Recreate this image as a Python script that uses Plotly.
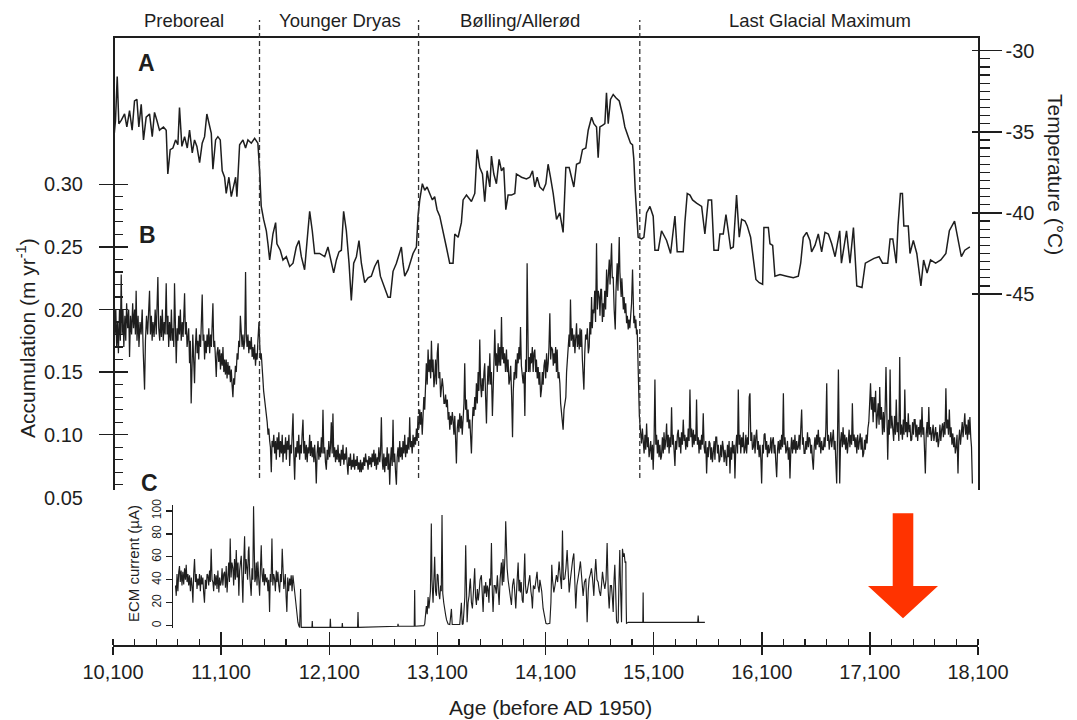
import plotly.graph_objects as go

# ---------------- DATA ----------------
# A: temperature (deg C) vs age (years before AD 1950)
TEMP_PREBOREAL = [
    (10105, -35.6), (10123, -34.3), (10139, -31.6), (10154, -34.5), (10176, -34.3), (10207, -33.9),
    (10228, -34.7), (10253, -33.7), (10277, -34.9), (10299, -33.1), (10321, -33.0), (10339, -34.7),
    (10361, -33.3), (10382, -35.5), (10407, -34.1), (10438, -33.9), (10463, -35.3), (10484, -33.8),
    (10506, -34.3), (10530, -34.9), (10567, -34.7), (10592, -34.9), (10607, -37.6), (10629, -36.1),
    (10654, -36.0), (10679, -35.5), (10700, -35.8), (10715, -33.5), (10737, -35.9), (10762, -35.3),
    (10787, -36.0), (10808, -34.9), (10833, -36.3), (10854, -35.5), (10876, -35.9), (10901, -36.9),
    (10925, -35.7), (10947, -35.3), (10968, -33.9), (10993, -34.7), (11009, -35.1), (11024, -37.3),
    (11049, -35.5), (11070, -35.3), (11092, -35.5), (11110, -37.4), (11132, -37.8), (11147, -38.8),
    (11172, -37.8), (11194, -39.0), (11215, -38.4), (11234, -37.8), (11246, -39.0), (11271, -35.8),
    (11302, -35.5), (11326, -36.0), (11348, -35.5), (11379, -35.7), (11410, -35.4), (11440, -35.7),
]
TEMP_YOUNGER_DRYAS = [
    (11456, -37.4), (11471, -39.6), (11493, -40.4), (11518, -41.1), (11533, -41.9), (11549, -42.9),
    (11579, -41.3), (11604, -40.6), (11616, -41.9), (11647, -42.3), (11672, -42.9), (11703, -42.7),
    (11734, -43.3), (11765, -43.1), (11795, -42.1), (11820, -41.7), (11842, -42.7), (11872, -43.5),
    (11903, -41.1), (11919, -39.9), (11943, -41.1), (11965, -42.5), (12011, -42.5), (12058, -42.7),
    (12088, -42.1), (12119, -43.1), (12141, -43.7), (12166, -42.9), (12190, -42.4), (12212, -42.3),
    (12233, -39.9), (12258, -41.1), (12283, -43.1), (12304, -45.4), (12326, -43.1), (12351, -42.7),
    (12375, -41.7), (12397, -43.1), (12428, -44.3), (12459, -44.0), (12489, -43.9), (12520, -43.3),
    (12551, -42.9), (12573, -43.9), (12597, -44.3), (12622, -44.8), (12644, -45.2), (12665, -45.2),
    (12690, -43.6), (12721, -43.1), (12745, -42.5), (12767, -42.1), (12782, -43.1), (12798, -43.9),
    (12829, -43.5), (12850, -43.1), (12875, -42.5), (12906, -42.1), (12921, -40.2),
]
TEMP_BOLLING_ALLEROD = [
    (12937, -39.2), (12961, -38.2), (12983, -38.6), (13005, -38.4), (13029, -38.8), (13054, -39.2),
    (13075, -39.0), (13097, -39.8), (13122, -40.2), (13153, -41.1), (13183, -42.1), (13214, -43.1),
    (13245, -43.1), (13261, -41.3), (13292, -41.5), (13322, -40.6), (13338, -39.2), (13369, -38.9),
    (13415, -39.3), (13446, -38.8), (13467, -36.1), (13492, -37.2), (13517, -37.6), (13538, -39.3),
    (13560, -37.4), (13585, -38.4), (13600, -36.5), (13622, -37.6), (13646, -38.2), (13671, -36.7),
    (13693, -37.4), (13714, -37.2), (13733, -39.8), (13754, -38.9), (13785, -38.9), (13816, -38.8),
    (13831, -37.6), (13878, -37.8), (13924, -37.9), (13955, -37.8), (13980, -37.4), (14001, -38.4),
    (14023, -37.8), (14047, -38.4), (14078, -38.6), (14103, -38.2), (14124, -37.0), (14146, -37.8),
    (14171, -38.8), (14202, -40.4), (14232, -40.0), (14263, -41.2), (14288, -37.2), (14319, -37.2),
    (14340, -37.8), (14362, -38.4), (14387, -37.0), (14418, -36.9), (14442, -36.1), (14473, -36.0),
    (14495, -34.9), (14526, -34.1), (14547, -34.5), (14572, -34.7), (14587, -36.6), (14603, -34.7),
    (14627, -34.6), (14649, -34.5), (14664, -32.6), (14680, -34.5), (14701, -33.0), (14726, -32.7),
    (14751, -32.9), (14782, -33.1), (14812, -33.9), (14834, -34.7), (14865, -35.3), (14886, -35.7),
    (14905, -35.8), (14917, -36.7), (14930, -38.6), (14942, -40.2), (14957, -41.5),
]
TEMP_LGM = [
    (14988, -41.6), (15010, -41.5), (15035, -40.0), (15066, -39.6), (15096, -40.2), (15112, -42.3),
    (15143, -42.3), (15173, -41.1), (15220, -41.7), (15257, -42.5), (15281, -41.1), (15297, -40.2),
    (15318, -42.4), (15343, -42.4), (15374, -42.4), (15389, -40.6), (15411, -38.8), (15436, -38.9),
    (15460, -39.2), (15497, -39.4), (15544, -39.6), (15574, -41.3), (15605, -39.2), (15636, -39.2),
    (15658, -42.3), (15698, -42.3), (15713, -41.3), (15744, -41.3), (15769, -40.1), (15790, -41.1),
    (15812, -42.2), (15837, -42.1), (15852, -40.8), (15867, -38.9), (15892, -41.5), (15914, -40.4),
    (15945, -40.5), (15966, -40.8), (15997, -41.5), (16022, -42.9), (16046, -44.1), (16077, -44.3),
    (16108, -44.4), (16120, -40.9), (16161, -40.9), (16176, -41.9), (16201, -42.0), (16222, -43.9),
    (16269, -43.8), (16330, -43.9), (16392, -44.0), (16438, -43.9), (16460, -43.1), (16484, -41.5),
    (16515, -41.2), (16546, -41.7), (16561, -42.4), (16592, -42.0), (16623, -41.3), (16654, -42.4),
    (16685, -41.2), (16716, -41.3), (16747, -41.9), (16778, -42.7), (16821, -41.1), (16837, -43.1),
    (16884, -41.1), (16916, -43.1), (16948, -40.9), (16979, -44.5), (17027, -44.6), (17058, -43.1),
    (17106, -42.9), (17138, -42.8), (17185, -42.7), (17217, -43.1), (17265, -43.1), (17287, -41.6),
    (17312, -41.6), (17344, -43.1), (17360, -40.8), (17382, -38.8), (17401, -38.8), (17414, -40.8),
    (17455, -40.8), (17471, -42.5), (17502, -41.7), (17534, -42.5), (17572, -44.5), (17597, -42.9),
    (17629, -43.7), (17661, -42.9), (17708, -43.1), (17756, -42.9), (17803, -42.5), (17835, -41.1),
    (17883, -40.5), (17915, -41.7), (17946, -42.7), (17978, -42.3), (18025, -42.1),
]

# B: accumulation (m/yr) vs age
ACC_PREBOREAL = [
    (10102, 0.195), (10110, 0.215), (10118, 0.180), (10126, 0.200), (10134, 0.170), (10142, 0.190),
    (10150, 0.165), (10160, 0.200), (10168, 0.175), (10176, 0.228), (10184, 0.180), (10192, 0.200),
    (10200, 0.170), (10210, 0.195), (10218, 0.175), (10226, 0.205), (10236, 0.185), (10245, 0.200),
    (10253, 0.162), (10262, 0.195), (10272, 0.180), (10282, 0.205), (10290, 0.185), (10300, 0.200),
    (10307, 0.180), (10314, 0.215), (10322, 0.175), (10332, 0.195), (10340, 0.170), (10350, 0.190),
    (10360, 0.180), (10370, 0.200), (10380, 0.165), (10392, 0.136), (10400, 0.175), (10410, 0.195),
    (10420, 0.180), (10430, 0.200), (10438, 0.215), (10446, 0.180), (10455, 0.195), (10462, 0.175),
    (10470, 0.190), (10480, 0.178), (10490, 0.200), (10500, 0.180), (10508, 0.205), (10515, 0.226),
    (10523, 0.185), (10532, 0.175), (10540, 0.195), (10548, 0.178), (10556, 0.200), (10565, 0.175),
    (10573, 0.190), (10582, 0.180), (10592, 0.221), (10600, 0.180), (10608, 0.195), (10615, 0.170),
    (10623, 0.190), (10632, 0.175), (10640, 0.200), (10648, 0.175), (10656, 0.185), (10662, 0.170),
    (10669, 0.221), (10677, 0.175), (10685, 0.157), (10693, 0.185), (10700, 0.175), (10708, 0.195),
    (10715, 0.180), (10723, 0.200), (10731, 0.175), (10740, 0.190), (10748, 0.178), (10755, 0.195),
    (10762, 0.213), (10770, 0.180), (10778, 0.190), (10785, 0.170), (10792, 0.175), (10800, 0.185),
    (10808, 0.157), (10815, 0.175), (10823, 0.125), (10830, 0.170), (10838, 0.180), (10846, 0.160),
    (10854, 0.141), (10862, 0.170), (10870, 0.185), (10878, 0.165), (10885, 0.175), (10893, 0.160),
    (10900, 0.180), (10910, 0.170), (10918, 0.190), (10925, 0.212), (10933, 0.175), (10940, 0.180),
    (10947, 0.160), (10955, 0.175), (10963, 0.165), (10970, 0.180), (10978, 0.170), (10986, 0.185),
    (10994, 0.165), (11002, 0.180), (11010, 0.170), (11017, 0.190), (11024, 0.205), (11032, 0.170),
    (11040, 0.175), (11048, 0.160), (11055, 0.146), (11062, 0.165), (11070, 0.170), (11078, 0.158),
    (11086, 0.168), (11094, 0.152), (11102, 0.165), (11110, 0.155), (11117, 0.170), (11125, 0.150),
    (11132, 0.160), (11140, 0.148), (11147, 0.160), (11155, 0.145), (11163, 0.158), (11170, 0.148),
    (11178, 0.155), (11186, 0.142), (11194, 0.152), (11201, 0.140), (11209, 0.130), (11216, 0.145),
    (11224, 0.140), (11232, 0.155), (11240, 0.150), (11248, 0.165), (11256, 0.160), (11263, 0.175),
    (11271, 0.170), (11278, 0.195), (11286, 0.175), (11294, 0.170), (11302, 0.180), (11310, 0.168),
    (11318, 0.175), (11326, 0.230), (11333, 0.180), (11340, 0.170), (11348, 0.180), (11356, 0.165),
    (11363, 0.175), (11371, 0.168), (11379, 0.178), (11387, 0.162), (11394, 0.170), (11402, 0.160),
    (11410, 0.172), (11418, 0.155), (11425, 0.165), (11433, 0.160), (11440, 0.175), (11450, 0.190),
]
ACC_YOUNGER_DRYAS = [
    (11458, 0.170), (11465, 0.160), (11471, 0.165), (11478, 0.150), (11486, 0.145), (11493, 0.135),
    (11500, 0.130), (11508, 0.120), (11518, 0.115), (11526, 0.110), (11534, 0.100), (11541, 0.105),
    (11549, 0.095), (11556, 0.090), (11564, 0.070), (11571, 0.095), (11579, 0.090), (11587, 0.100),
    (11595, 0.085), (11603, 0.095), (11610, 0.080), (11618, 0.098), (11626, 0.088), (11634, 0.102),
    (11641, 0.082), (11649, 0.095), (11657, 0.085), (11665, 0.100), (11672, 0.078), (11680, 0.092),
    (11688, 0.085), (11696, 0.098), (11703, 0.080), (11711, 0.095), (11719, 0.088), (11727, 0.100),
    (11734, 0.075), (11742, 0.092), (11750, 0.085), (11758, 0.098), (11765, 0.117), (11772, 0.085),
    (11780, 0.064), (11788, 0.090), (11795, 0.082), (11803, 0.095), (11811, 0.085), (11818, 0.100),
    (11826, 0.080), (11834, 0.092), (11842, 0.085), (11849, 0.100), (11857, 0.112), (11865, 0.085),
    (11872, 0.095), (11880, 0.080), (11888, 0.092), (11896, 0.078), (11903, 0.090), (11911, 0.085),
    (11919, 0.100), (11926, 0.083), (11934, 0.095), (11942, 0.082), (11950, 0.090), (11958, 0.078),
    (11965, 0.092), (11973, 0.080), (11980, 0.061), (11988, 0.085), (11996, 0.095), (12004, 0.080),
    (12011, 0.090), (12019, 0.082), (12027, 0.098), (12034, 0.085), (12042, 0.120), (12050, 0.085),
    (12058, 0.090), (12065, 0.078), (12073, 0.072), (12081, 0.088), (12088, 0.080), (12096, 0.095),
    (12104, 0.082), (12111, 0.090), (12119, 0.110), (12127, 0.085), (12134, 0.117), (12142, 0.082),
    (12150, 0.090), (12158, 0.078), (12165, 0.088), (12173, 0.080), (12181, 0.092), (12189, 0.078),
    (12196, 0.085), (12204, 0.075), (12212, 0.088), (12220, 0.080), (12227, 0.092), (12235, 0.076),
    (12243, 0.085), (12250, 0.080), (12258, 0.090), (12266, 0.076), (12273, 0.068), (12281, 0.082),
    (12289, 0.075), (12296, 0.085), (12304, 0.072), (12312, 0.080), (12320, 0.074), (12327, 0.085),
    (12335, 0.072), (12343, 0.080), (12351, 0.075), (12358, 0.083), (12366, 0.072), (12374, 0.078),
    (12382, 0.070), (12389, 0.080), (12397, 0.070), (12405, 0.078), (12412, 0.072), (12420, 0.082),
    (12428, 0.075), (12436, 0.085), (12443, 0.078), (12451, 0.080), (12459, 0.072), (12467, 0.083),
    (12474, 0.076), (12482, 0.082), (12490, 0.074), (12497, 0.085), (12505, 0.078), (12513, 0.088),
    (12520, 0.075), (12528, 0.085), (12536, 0.072), (12544, 0.082), (12551, 0.076), (12559, 0.090),
    (12567, 0.078), (12574, 0.085), (12582, 0.114), (12590, 0.080), (12597, 0.072), (12605, 0.085),
    (12613, 0.070), (12620, 0.082), (12628, 0.075), (12636, 0.090), (12644, 0.072), (12651, 0.085),
    (12659, 0.060), (12667, 0.080), (12674, 0.090), (12682, 0.075), (12690, 0.112), (12697, 0.078),
    (12705, 0.085), (12713, 0.070), (12721, 0.060), (12728, 0.082), (12736, 0.090), (12744, 0.078),
    (12752, 0.095), (12759, 0.082), (12767, 0.090), (12775, 0.080), (12782, 0.095), (12790, 0.085),
    (12798, 0.100), (12806, 0.082), (12813, 0.092), (12821, 0.085), (12829, 0.098), (12837, 0.088),
    (12844, 0.114), (12852, 0.090), (12860, 0.095), (12867, 0.085), (12875, 0.100), (12883, 0.090),
    (12890, 0.098), (12898, 0.092), (12906, 0.105), (12913, 0.095), (12921, 0.115),
]
ACC_BOLLING_ALLEROD = [
    (12929, 0.105), (12937, 0.120), (12944, 0.108), (12952, 0.118), (12960, 0.100), (12967, 0.117),
    (12975, 0.130), (12983, 0.120), (12990, 0.145), (12998, 0.157), (13006, 0.140), (13014, 0.168),
    (13022, 0.150), (13030, 0.160), (13038, 0.145), (13045, 0.175), (13053, 0.150), (13060, 0.160),
    (13068, 0.138), (13075, 0.144), (13083, 0.160), (13091, 0.140), (13099, 0.165), (13107, 0.173),
    (13114, 0.145), (13122, 0.150), (13130, 0.130), (13137, 0.136), (13145, 0.145), (13153, 0.138),
    (13161, 0.125), (13168, 0.125), (13176, 0.132), (13184, 0.122), (13192, 0.128), (13200, 0.112),
    (13207, 0.118), (13215, 0.104), (13222, 0.115), (13230, 0.108), (13238, 0.118), (13245, 0.112),
    (13253, 0.100), (13261, 0.115), (13268, 0.092), (13276, 0.077), (13284, 0.105), (13292, 0.112),
    (13299, 0.102), (13307, 0.117), (13315, 0.105), (13322, 0.115), (13330, 0.100), (13338, 0.109),
    (13346, 0.125), (13353, 0.157), (13361, 0.120), (13369, 0.128), (13376, 0.110), (13384, 0.120),
    (13392, 0.105), (13400, 0.112), (13407, 0.095), (13415, 0.085), (13423, 0.110), (13430, 0.122),
    (13438, 0.115), (13446, 0.130), (13453, 0.120), (13461, 0.141), (13469, 0.125), (13477, 0.150),
    (13484, 0.135), (13492, 0.176), (13500, 0.140), (13508, 0.130), (13515, 0.145), (13523, 0.135),
    (13531, 0.150), (13538, 0.157), (13546, 0.130), (13554, 0.109), (13562, 0.140), (13569, 0.155),
    (13577, 0.140), (13585, 0.165), (13593, 0.140), (13600, 0.150), (13609, 0.115), (13616, 0.150),
    (13624, 0.160), (13631, 0.184), (13639, 0.155), (13646, 0.165), (13654, 0.150), (13662, 0.173),
    (13670, 0.155), (13677, 0.170), (13685, 0.155), (13693, 0.194), (13700, 0.160), (13708, 0.170),
    (13714, 0.157), (13722, 0.165), (13730, 0.150), (13739, 0.168), (13746, 0.150), (13754, 0.160),
    (13762, 0.140), (13770, 0.144), (13778, 0.155), (13787, 0.130), (13795, 0.098), (13802, 0.135),
    (13810, 0.150), (13816, 0.144), (13824, 0.160), (13832, 0.145), (13840, 0.165), (13847, 0.157),
    (13855, 0.170), (13862, 0.160), (13869, 0.186), (13877, 0.155), (13885, 0.150), (13893, 0.141),
    (13901, 0.150), (13909, 0.115), (13916, 0.160), (13923, 0.150), (13930, 0.237), (13937, 0.160),
    (13942, 0.150), (13949, 0.162), (13957, 0.150), (13963, 0.165), (13970, 0.157), (13978, 0.170),
    (13986, 0.150), (13993, 0.165), (14001, 0.168), (14009, 0.150), (14016, 0.160), (14024, 0.145),
    (14032, 0.154), (14040, 0.140), (14047, 0.150), (14055, 0.130), (14063, 0.136), (14071, 0.150),
    (14078, 0.140), (14086, 0.155), (14094, 0.160), (14102, 0.145), (14110, 0.165), (14117, 0.150),
    (14125, 0.157), (14132, 0.170), (14140, 0.197), (14148, 0.160), (14155, 0.170), (14165, 0.168),
    (14172, 0.155), (14179, 0.165), (14186, 0.157), (14194, 0.170), (14201, 0.150), (14208, 0.168),
    (14216, 0.145), (14224, 0.150), (14233, 0.141), (14240, 0.125), (14248, 0.115), (14256, 0.110),
    (14263, 0.104), (14271, 0.120), (14280, 0.125), (14288, 0.130), (14295, 0.150), (14303, 0.165),
    (14310, 0.176), (14318, 0.180), (14324, 0.170), (14331, 0.208), (14339, 0.175), (14348, 0.185),
    (14356, 0.170), (14364, 0.180), (14372, 0.165), (14380, 0.185), (14387, 0.189), (14395, 0.170),
    (14404, 0.180), (14412, 0.168), (14419, 0.185), (14426, 0.170), (14433, 0.184), (14441, 0.160),
    (14448, 0.150), (14455, 0.136), (14463, 0.165), (14471, 0.180), (14479, 0.176), (14487, 0.185),
    (14496, 0.165), (14504, 0.170), (14511, 0.190), (14519, 0.180), (14526, 0.210), (14533, 0.185),
    (14540, 0.200), (14547, 0.197), (14555, 0.215), (14563, 0.190), (14572, 0.253), (14580, 0.200),
    (14588, 0.215), (14597, 0.210), (14604, 0.195), (14611, 0.216), (14618, 0.216), (14626, 0.190),
    (14633, 0.205), (14640, 0.194), (14648, 0.215), (14656, 0.200), (14665, 0.232), (14672, 0.210),
    (14680, 0.225), (14690, 0.240), (14697, 0.220), (14704, 0.235), (14711, 0.253), (14718, 0.225),
    (14726, 0.226), (14735, 0.200), (14745, 0.184), (14752, 0.215), (14757, 0.225), (14763, 0.237),
    (14770, 0.215), (14776, 0.240), (14782, 0.258), (14788, 0.230), (14794, 0.221), (14800, 0.210),
    (14806, 0.225), (14813, 0.216), (14820, 0.200), (14827, 0.210), (14834, 0.197), (14842, 0.205),
    (14850, 0.189), (14857, 0.195), (14865, 0.184), (14872, 0.192), (14880, 0.185), (14887, 0.194),
    (14896, 0.205), (14905, 0.232), (14911, 0.200), (14917, 0.189), (14924, 0.195), (14930, 0.185),
    (14936, 0.192), (14942, 0.180), (14948, 0.184), (14953, 0.160), (14958, 0.144), (14964, 0.125),
    (14968, 0.115), (14973, 0.109), (14980, 0.100),
]
ACC_LGM = [
    (14988, 0.093), (14996, 0.105), (15004, 0.096), (15012, 0.085), (15020, 0.100), (15027, 0.088),
    (15035, 0.109), (15043, 0.090), (15050, 0.098), (15058, 0.082), (15066, 0.088), (15073, 0.095),
    (15081, 0.080), (15089, 0.092), (15096, 0.072), (15104, 0.095), (15112, 0.144), (15120, 0.092),
    (15127, 0.100), (15135, 0.085), (15143, 0.096), (15150, 0.082), (15158, 0.092), (15166, 0.080),
    (15173, 0.083), (15181, 0.098), (15189, 0.085), (15196, 0.102), (15204, 0.088), (15212, 0.095),
    (15220, 0.109), (15227, 0.090), (15235, 0.100), (15243, 0.085), (15250, 0.098), (15258, 0.090),
    (15266, 0.122), (15274, 0.092), (15281, 0.100), (15289, 0.085), (15297, 0.075), (15304, 0.095),
    (15312, 0.088), (15320, 0.100), (15328, 0.104), (15336, 0.090), (15343, 0.098), (15351, 0.085),
    (15358, 0.102), (15366, 0.092), (15374, 0.112), (15382, 0.095), (15389, 0.100), (15397, 0.088),
    (15405, 0.098), (15413, 0.090), (15420, 0.105), (15428, 0.095), (15436, 0.136), (15444, 0.098),
    (15451, 0.105), (15459, 0.090), (15467, 0.104), (15474, 0.092), (15482, 0.100), (15490, 0.095),
    (15497, 0.128), (15505, 0.092), (15513, 0.098), (15520, 0.085), (15528, 0.096), (15536, 0.088),
    (15544, 0.100), (15551, 0.092), (15559, 0.117), (15567, 0.090), (15574, 0.085), (15582, 0.095),
    (15590, 0.069), (15598, 0.090), (15605, 0.082), (15613, 0.095), (15621, 0.093), (15629, 0.080),
    (15636, 0.090), (15644, 0.078), (15652, 0.085), (15660, 0.095), (15667, 0.080), (15675, 0.098),
    (15683, 0.098), (15691, 0.085), (15698, 0.092), (15706, 0.078), (15713, 0.080), (15721, 0.092),
    (15729, 0.082), (15737, 0.095), (15744, 0.090), (15752, 0.078), (15760, 0.088), (15767, 0.080),
    (15775, 0.075), (15783, 0.092), (15790, 0.082), (15798, 0.095), (15806, 0.069), (15814, 0.090),
    (15821, 0.080), (15829, 0.095), (15837, 0.085), (15845, 0.092), (15852, 0.065), (15860, 0.090),
    (15868, 0.100), (15876, 0.085), (15883, 0.136), (15891, 0.092), (15899, 0.100), (15906, 0.085),
    (15914, 0.098), (15922, 0.090), (15930, 0.102), (15937, 0.085), (15945, 0.088), (15953, 0.100),
    (15960, 0.085), (15968, 0.098), (15976, 0.092), (15984, 0.130), (15991, 0.133), (15999, 0.095),
    (16007, 0.102), (16014, 0.088), (16022, 0.090), (16030, 0.100), (16038, 0.085), (16045, 0.098),
    (16053, 0.104), (16061, 0.088), (16068, 0.095), (16076, 0.082), (16084, 0.092), (16092, 0.080),
    (16099, 0.061), (16107, 0.092), (16115, 0.085), (16122, 0.100), (16130, 0.101), (16138, 0.088),
    (16145, 0.095), (16153, 0.082), (16161, 0.092), (16168, 0.085), (16176, 0.088), (16184, 0.098),
    (16192, 0.085), (16199, 0.095), (16207, 0.098), (16215, 0.085), (16222, 0.092), (16230, 0.078),
    (16238, 0.066), (16246, 0.088), (16253, 0.095), (16261, 0.085), (16269, 0.096), (16277, 0.088),
    (16284, 0.100), (16292, 0.090), (16300, 0.133), (16307, 0.092), (16315, 0.098), (16323, 0.085),
    (16330, 0.088), (16338, 0.095), (16346, 0.080), (16354, 0.090), (16361, 0.065), (16369, 0.088),
    (16376, 0.098), (16384, 0.085), (16392, 0.096), (16400, 0.088), (16407, 0.100), (16415, 0.085),
    (16423, 0.095), (16430, 0.088), (16438, 0.090), (16446, 0.100), (16453, 0.088), (16461, 0.105),
    (16469, 0.120), (16477, 0.092), (16484, 0.098), (16492, 0.085), (16500, 0.085), (16508, 0.095),
    (16515, 0.088), (16523, 0.102), (16531, 0.090), (16538, 0.098), (16546, 0.096), (16554, 0.085),
    (16561, 0.092), (16569, 0.080), (16577, 0.072), (16585, 0.090), (16592, 0.098), (16600, 0.088),
    (16608, 0.100), (16615, 0.092), (16623, 0.104), (16631, 0.090), (16638, 0.098), (16646, 0.085),
    (16654, 0.095), (16662, 0.088), (16670, 0.088), (16677, 0.098), (16685, 0.090), (16693, 0.105),
    (16701, 0.141), (16708, 0.095), (16716, 0.100), (16724, 0.088), (16731, 0.093), (16739, 0.102),
    (16747, 0.090), (16754, 0.098), (16762, 0.104), (16770, 0.088), (16778, 0.095), (16785, 0.078),
    (16793, 0.061), (16801, 0.100), (16809, 0.152), (16816, 0.098), (16821, 0.061), (16829, 0.095),
    (16837, 0.102), (16845, 0.090), (16852, 0.106), (16860, 0.092), (16868, 0.100), (16876, 0.088),
    (16884, 0.098), (16892, 0.085), (16900, 0.096), (16908, 0.104), (16915, 0.090), (16923, 0.100),
    (16931, 0.092), (16938, 0.125), (16946, 0.095), (16954, 0.100), (16963, 0.090), (16971, 0.098),
    (16979, 0.085), (16987, 0.100), (16995, 0.088), (17003, 0.095), (17011, 0.101), (17019, 0.088),
    (17027, 0.098), (17035, 0.082), (17043, 0.085), (17051, 0.096), (17058, 0.088), (17066, 0.100),
    (17074, 0.093), (17082, 0.105), (17090, 0.110), (17098, 0.125), (17106, 0.141), (17114, 0.120),
    (17122, 0.130), (17130, 0.110), (17138, 0.130), (17146, 0.118), (17153, 0.135), (17161, 0.105),
    (17169, 0.115), (17177, 0.125), (17185, 0.108), (17191, 0.138), (17199, 0.112), (17207, 0.122),
    (17217, 0.100), (17225, 0.118), (17233, 0.102), (17241, 0.120), (17249, 0.154), (17257, 0.105),
    (17265, 0.080), (17273, 0.112), (17280, 0.100), (17287, 0.152), (17295, 0.105), (17303, 0.115),
    (17312, 0.106), (17320, 0.095), (17328, 0.115), (17336, 0.100), (17344, 0.128), (17352, 0.102),
    (17360, 0.110), (17368, 0.095), (17376, 0.162), (17384, 0.100), (17392, 0.108), (17401, 0.096),
    (17409, 0.112), (17416, 0.100), (17423, 0.136), (17431, 0.102), (17439, 0.110), (17447, 0.098),
    (17455, 0.117), (17463, 0.102), (17471, 0.108), (17479, 0.095), (17487, 0.096), (17495, 0.110),
    (17503, 0.100), (17510, 0.112), (17518, 0.112), (17526, 0.098), (17534, 0.108), (17542, 0.095),
    (17550, 0.106), (17558, 0.100), (17566, 0.112), (17574, 0.098), (17582, 0.122), (17590, 0.100),
    (17598, 0.106), (17606, 0.092), (17613, 0.069), (17621, 0.100), (17629, 0.110), (17637, 0.098),
    (17645, 0.122), (17653, 0.100), (17661, 0.106), (17669, 0.095), (17677, 0.101), (17685, 0.108),
    (17692, 0.095), (17700, 0.104), (17708, 0.106), (17716, 0.094), (17724, 0.102), (17732, 0.090),
    (17740, 0.096), (17748, 0.108), (17756, 0.095), (17764, 0.104), (17772, 0.109), (17780, 0.098),
    (17788, 0.110), (17795, 0.100), (17803, 0.137), (17811, 0.105), (17819, 0.112), (17827, 0.100),
    (17835, 0.120), (17843, 0.098), (17851, 0.106), (17859, 0.092), (17867, 0.101), (17875, 0.090),
    (17883, 0.098), (17890, 0.085), (17898, 0.090), (17906, 0.100), (17915, 0.069), (17922, 0.095),
    (17930, 0.104), (17938, 0.092), (17946, 0.101), (17954, 0.110), (17962, 0.098), (17970, 0.108),
    (17978, 0.117), (17986, 0.100), (17994, 0.108), (18003, 0.096), (18010, 0.112), (18018, 0.100),
    (18025, 0.114), (18033, 0.098), (18040, 0.090), (18048, 0.061),
]

# C: ECM current (microampere) vs age
ECM_PREBOREAL = [
    (10678, 35), (10685, 26), (10692, 45), (10700, 30), (10708, 47), (10715, 52), (10722, 38),
    (10730, 48), (10738, 35), (10746, 47), (10754, 36), (10762, 50), (10770, 40), (10777, 53),
    (10785, 38), (10793, 45), (10800, 35), (10808, 44), (10816, 30), (10824, 42), (10831, 35),
    (10839, 20), (10846, 45), (10854, 58), (10862, 38), (10870, 45), (10877, 32), (10885, 41),
    (10893, 35), (10900, 45), (10908, 30), (10916, 44), (10923, 36), (10931, 42), (10939, 28),
    (10946, 20), (10954, 40), (10962, 32), (10970, 45), (10977, 44), (10985, 35), (10993, 48),
    (11000, 38), (11008, 67), (11016, 40), (11024, 38), (11031, 30), (11039, 45), (11047, 35),
    (11054, 44), (11062, 32), (11070, 48), (11079, 29), (11086, 42), (11094, 35), (11101, 38),
    (11109, 50), (11116, 35), (11124, 45), (11132, 47), (11140, 33), (11147, 52), (11155, 29),
    (11162, 45), (11170, 55), (11177, 38), (11184, 76), (11192, 42), (11200, 55), (11209, 50),
    (11216, 35), (11224, 58), (11232, 40), (11240, 66), (11248, 42), (11256, 55), (11264, 26),
    (11271, 48), (11279, 58), (11286, 61), (11294, 40), (11301, 20), (11309, 55), (11317, 78),
    (11324, 45), (11331, 58), (11338, 50), (11345, 40), (11352, 65), (11357, 69), (11364, 45),
    (11371, 30), (11378, 26), (11386, 50), (11393, 40), (11400, 104), (11407, 45), (11412, 38),
    (11418, 41), (11425, 55), (11432, 35), (11440, 56), (11448, 40),
]
ECM_YOUNGER_DRYAS = [
    (11456, 26), (11463, 48), (11471, 70), (11478, 45), (11486, 38), (11493, 50), (11500, 35),
    (11508, 45), (11517, 38), (11525, 42), (11533, 30), (11540, 40), (11548, 12), (11555, 45),
    (11562, 38), (11570, 76), (11578, 35), (11586, 45), (11594, 41), (11602, 30), (11610, 48),
    (11617, 38), (11625, 47), (11633, 35), (11641, 29), (11649, 45), (11657, 38), (11665, 67),
    (11672, 40), (11680, 32), (11687, 38), (11694, 45), (11701, 25), (11708, 12), (11716, 42),
    (11724, 30), (11733, 41), (11740, 35), (11748, 44), (11756, 30), (11764, 44), (11772, 36),
    (11779, 29), (11787, 25), (11795, 18), (11802, 10), (11810, 3), (11818, 0), (11826, -1.5),
    (11835, 32), (11841, -1.5), (11940, -1.5), (11943, 4), (11946, -1.5), (12107, -1.5),
    (12110, 6), (12114, -1.5), (12218, -1.5), (12221, 2.3), (12224, -1.5), (12362, -1.5),
    (12366, 12), (12370, -1.5), (12600, -1), (12733, -0.5), (12736, 1.5), (12740, -0.5),
    (12886, -0.5), (12890, 31), (12894, -0.5),
]
ECM_BOLLING_ALLEROD = [
    (12975, 0), (12983, 1.5), (12998, 17), (13006, 10), (13014, 25), (13022, 15), (13029, 26),
    (13036, 30), (13044, 89), (13050, 40), (13060, 20), (13068, 35), (13075, 60), (13083, 30),
    (13091, 26), (13099, 45), (13106, 44), (13114, 28), (13122, 23), (13130, 35), (13136, 30),
    (13143, 96.5), (13150, 28), (13159, 20), (13168, 12), (13177, 9), (13185, 5), (13192, 3),
    (13199, 1.5), (13215, 1), (13230, 14.6), (13237, 1), (13307, 1), (13322, 20), (13330, 1),
    (13338, 1.5), (13346, 10), (13354, 25), (13362, 70), (13368, 15), (13375, 3), (13384, 20),
    (13393, 26), (13399, 35), (13405, 41), (13415, 20), (13424, 15), (13435, 32), (13445, 50),
    (13453, 25), (13461, 18), (13470, 32), (13478, 22), (13486, 29), (13495, 40), (13507, 44),
    (13515, 25), (13523, 12), (13532, 35), (13540, 28), (13547, 38), (13555, 25), (13562, 35),
    (13569, 32), (13577, 20), (13584, 41), (13592, 35), (13600, 72), (13608, 30), (13615, 12),
    (13625, 35), (13634, 35), (13645, 28), (13655, 44), (13663, 30), (13671, 18), (13680, 40),
    (13692, 55), (13700, 35), (13707, 58), (13714, 38), (13720, 50), (13726, 62), (13732, 91),
    (13739, 55), (13745, 50), (13754, 40), (13763, 32), (13773, 25), (13785, 18), (13795, 35),
    (13806, 41), (13815, 30), (13825, 15), (13835, 35), (13847, 55), (13855, 30), (13861, 40),
    (13868, 29), (13875, 38), (13885, 22), (13893, 20), (13900, 40), (13908, 63), (13915, 35),
    (13922, 28), (13930, 29), (13940, 35), (13955, 44), (13965, 30), (13972, 25), (13979, 15),
    (13988, 35), (14001, 32), (14010, 40), (14022, 47), (14030, 35), (14041, 29), (14048, 40),
    (14056, 35), (14065, 30), (14078, 15), (14086, 10), (14093, 6), (14104, 2), (14115, 1.5),
    (14130, 1.5), (14140, 2), (14150, 20), (14158, 53), (14165, 40), (14177, 29), (14188, 35),
    (14201, 44), (14212, 38), (14226, 56), (14235, 45), (14248, 32), (14257, 83), (14265, 40),
    (14278, 41), (14289, 50), (14300, 66), (14310, 45), (14319, 29), (14330, 40), (14340, 50),
    (14352, 58), (14362, 63), (14371, 30), (14380, 15), (14390, 35), (14402, 41), (14412, 48),
    (14423, 56), (14435, 40), (14448, 26), (14460, 38), (14473, 41), (14479, 25), (14485, 3),
    (14495, 30), (14504, 41), (14515, 45), (14525, 50), (14536, 40), (14547, 26), (14556, 45),
    (14565, 58), (14576, 40), (14587, 38), (14598, 30), (14609, 26), (14618, 35), (14627, 47),
    (14638, 38), (14649, 32), (14660, 40), (14670, 72), (14680, 30), (14689, 15), (14700, 35),
    (14710, 35), (14718, 25), (14726, 12), (14734, 40), (14741, 53), (14749, 30), (14757, 4),
    (14765, 2), (14772, 3), (14780, 40), (14787, 66), (14795, 30), (14803, 3), (14808, 40),
    (14812, 67), (14820, 60), (14828, 63), (14836, 55), (14843, 56), (14846, 20), (14849, 2),
    (14865, 2.9),
]
ECM_LGM = [
    (15000, 2.9), (15003, 29), (15006, 2.9), (15508, 2.9), (15512, 8.8), (15516, 2.9), (15574, 2.9),
]

PERIOD_NAMES = ["Preboreal", "Younger Dryas", "Bølling/Allerød", "Last Glacial Maximum"]
PERIOD_LABEL_AGES = [10752, 12196, 13862, 16638]
PERIOD_BOUNDS = [11455, 12926, 14972]

ACC_TICKS = [0.10, 0.15, 0.20, 0.25, 0.30]
TEMP_TICKS = [-30, -35, -40, -45]
ECM_TICKS = [0, 20, 40, 60, 80, 100]


def unzip(*parts):
    xs, ys = [], []
    for part in parts:
        for a, v in part:
            xs.append(a)
            ys.append(v)
    return xs, ys


temp_x, temp_y = unzip(TEMP_PREBOREAL, TEMP_YOUNGER_DRYAS, TEMP_BOLLING_ALLEROD, TEMP_LGM)
acc_x, acc_y = unzip(ACC_PREBOREAL, ACC_YOUNGER_DRYAS, ACC_BOLLING_ALLEROD, ACC_LGM)
ecm_x, ecm_y = unzip(ECM_PREBOREAL, ECM_YOUNGER_DRYAS, ECM_BOLLING_ALLEROD, ECM_LGM)

# ---------------- LAYOUT GEOMETRY ----------------
W, H = 1077, 720
ML, MR, MT, MB = 113, 99, 36, 75
PH = H - MT - MB
PW = W - ML - MR


def py(Y):  # pixel row -> paper y
    return (H - MB - Y) / PH


def px(X):  # pixel column -> paper x
    return (X - ML) / PW


INK = "#1e1e1e"
FONT = "Liberation Sans, Arial, Helvetica, sans-serif"
XR = [10100, 18100]
ACC_RANGE = [0.0558, 0.4185]
TEMP_RANGE = [-57.08, -29.094]
MAIN_DOM = [py(490), 1.0]

acc_minor = [round(0.05 + 0.01 * i, 2) for i in range(1, 25) if i % 5 != 0]
temp_minor = [-30 - 0.5 * i for i in range(1, 30) if i % 10 != 0]

fig = go.Figure()
fig.add_trace(go.Scatter(x=acc_x, y=acc_y, mode="lines", xaxis="x", yaxis="y",
                         line=dict(color=INK, width=1.25), showlegend=False, hoverinfo="skip"))
fig.add_trace(go.Scatter(x=temp_x, y=temp_y, mode="lines", xaxis="x", yaxis="y2",
                         line=dict(color=INK, width=1.5), showlegend=False, hoverinfo="skip"))
fig.add_trace(go.Scatter(x=ecm_x, y=ecm_y, mode="lines", xaxis="x", yaxis="y5",
                         line=dict(color=INK, width=1.15), showlegend=False, hoverinfo="skip"))
# empty carriers so the auxiliary tick/frame axes are drawn
for xa, ya in [("x2", "y"), ("x3", "y"), ("x", "y3"), ("x", "y4"), ("x", "y6")]:
    fig.add_trace(go.Scatter(x=[], y=[], xaxis=xa, yaxis=ya, showlegend=False, hoverinfo="skip"))

common = dict(showgrid=False, zeroline=False, fixedrange=True)

fig.update_layout(
    width=W, height=H, autosize=False,
    margin=dict(l=ML, r=MR, t=MT, b=MB, pad=0),
    paper_bgcolor="white", plot_bgcolor="white",
    font=dict(family=FONT, color=INK),
    xaxis=dict(range=XR, anchor="free", position=0, showline=True, linecolor=INK, linewidth=1.5,
               ticks="outside", ticklen=8, tickwidth=1.5, tickcolor=INK,
               tickmode="linear", tick0=10100, dtick=1000, tickformat=",d",
               tickfont=dict(size=20, family=FONT, color=INK), ticklabelstandoff=0,
               minor=dict(ticks="inside", ticklen=6, tickwidth=1.2, tickcolor=INK,
                          tick0=10100, dtick=200, showgrid=False), **common),
    xaxis2=dict(range=XR, overlaying="x", anchor="free", position=0, showline=False,
                ticks="inside", ticklen=13, tickwidth=1.5, tickcolor=INK,
                tickmode="linear", tick0=10100, dtick=1000, showticklabels=False, **common),
    xaxis3=dict(range=XR, overlaying="x", side="top", anchor="free", position=1,
                showline=True, linecolor=INK, linewidth=1.5, ticks="", showticklabels=False, **common),
    yaxis=dict(range=ACC_RANGE, domain=MAIN_DOM, anchor="free", position=0, side="left",
               showline=True, linecolor=INK, linewidth=1.5,
               ticks="outside", ticklen=14, tickwidth=1.5, tickcolor=INK,
               tickmode="array", tickvals=ACC_TICKS, ticktext=[f"{v:.2f}" for v in ACC_TICKS],
               tickfont=dict(size=20, family=FONT, color=INK), ticklabelstandoff=12,
               minor=dict(tickmode="array", tickvals=acc_minor, ticks="inside", ticklen=8,
                          tickwidth=1.2, tickcolor=INK, showgrid=False), **common),
    yaxis4=dict(range=ACC_RANGE, overlaying="y", anchor="free", position=0, side="left",
                showline=False, ticks="inside", ticklen=14, tickwidth=1.5, tickcolor=INK,
                tickmode="array", tickvals=ACC_TICKS, showticklabels=False, **common),
    yaxis6=dict(range=[0.05 - 4.5 / 1252, 0.05 + 4.5 / 1252], domain=[py(502), py(493)],
                anchor="free", position=0, side="left", showline=False,
                ticks="outside", ticklen=14, tickcolor="rgba(0,0,0,0)",
                tickmode="array", tickvals=[0.05], ticktext=["0.05"],
                tickfont=dict(size=20, family=FONT, color=INK), ticklabelstandoff=12, **common),
    yaxis2=dict(range=TEMP_RANGE, overlaying="y", anchor="free", position=1, side="right",
                showline=True, linecolor=INK, linewidth=1.5,
                ticks="outside", ticklen=22, tickwidth=1.5, tickcolor=INK,
                tickmode="array", tickvals=TEMP_TICKS, ticktext=[str(v) for v in TEMP_TICKS],
                tickfont=dict(size=20, family=FONT, color=INK),
                minor=dict(tickmode="array", tickvals=temp_minor, ticks="outside", ticklen=10,
                           tickwidth=1.2, tickcolor=INK, showgrid=False), **common),
    yaxis3=dict(range=TEMP_RANGE, overlaying="y", anchor="free", position=1, side="right",
                showline=False, ticks="inside", ticklen=6, tickwidth=1.5, tickcolor=INK,
                tickmode="array", tickvals=TEMP_TICKS, showticklabels=False, **common),
    yaxis5=dict(range=[-2.3, 105.2], domain=[py(628.3), py(505)], anchor="free",
                position=px(171.7), side="left", showline=True, linecolor=INK, linewidth=1.3,
                ticks="outside", ticklen=6, tickwidth=1.2, tickcolor=INK,
                tickmode="array", tickvals=ECM_TICKS, ticktext=[str(v) for v in ECM_TICKS],
                tickangle=-90, tickfont=dict(size=12, family=FONT, color=INK), **common),
)

# period boundaries (dashed)
for a in PERIOD_BOUNDS:
    fig.add_shape(type="line", xref="x", yref="paper", x0=a, x1=a, y0=py(478), y1=py(20),
                  line=dict(color="#333333", width=1.3, dash="5px,3px"))

# red arrow
fig.add_shape(type="path", xref="paper", yref="paper",
              path=(f"M {px(892.7)},{py(513.3)} L {px(913.3)},{py(513.3)} L {px(913.3)},{py(586)} "
                    f"L {px(938)},{py(586)} L {px(903)},{py(618.3)} L {px(868)},{py(586)} "
                    f"L {px(892.7)},{py(586)} Z"),
              fillcolor="#FF3300", line=dict(width=0))

ann = []
for name, a in zip(PERIOD_NAMES, PERIOD_LABEL_AGES):
    ann.append(dict(text=name, x=a, xref="x", y=py(20.7), yref="paper", showarrow=False,
                    xanchor="center", yanchor="middle", font=dict(size=18.5, family=FONT, color=INK)))
for letter, X, Y in [("A", 146.7, 63.3), ("B", 147, 235), ("C", 149, 483)]:
    ann.append(dict(text=f"<b>{letter}</b>", x=px(X), xref="paper", y=py(Y), yref="paper",
                    showarrow=False, xanchor="center", yanchor="middle",
                    font=dict(size=23, family=FONT, color=INK)))
ann.append(dict(text="Accumulation (m yr<sup>-1</sup>)", x=px(26), y=py(338), xref="paper", yref="paper",
                textangle=-90, showarrow=False, xanchor="center", yanchor="middle",
                font=dict(size=21, family=FONT, color=INK)))
ann.append(dict(text="Temperature (°C)", x=px(1055), y=py(174), xref="paper", yref="paper",
                textangle=90, showarrow=False, xanchor="center", yanchor="middle",
                font=dict(size=21, family=FONT, color=INK)))
ann.append(dict(text="Age (before AD 1950)", x=px(550), y=py(707), xref="paper", yref="paper",
                showarrow=False, xanchor="center", yanchor="middle",
                font=dict(size=21, family=FONT, color=INK)))
ann.append(dict(text="ECM current (µA)", x=px(133), y=py(564), xref="paper", yref="paper",
                textangle=-90, showarrow=False, xanchor="center", yanchor="middle",
                font=dict(size=15, family=FONT, color=INK)))
fig.update_layout(annotations=ann)

fig.write_html("out.html",
               config={"displayModeBar": False, "staticPlot": True},
               post_script="document.body.style.margin='0px';document.body.style.padding='0px';")
